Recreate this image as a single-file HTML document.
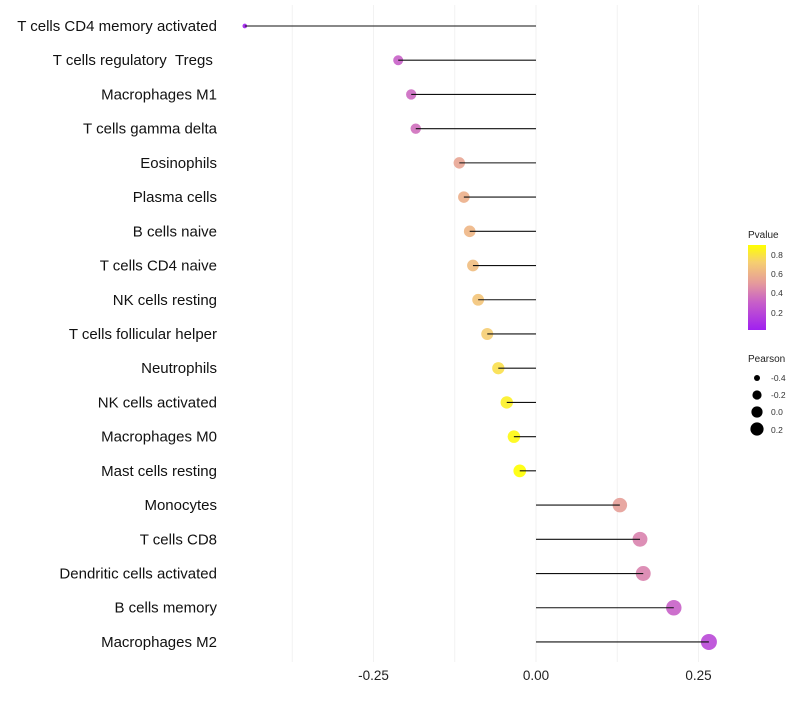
<!DOCTYPE html>
<html><head><meta charset="utf-8"><style>
body{margin:0;background:#fff;font-family:"Liberation Sans",sans-serif}
</style></head><body>
<svg id="chart" width="800" height="700" xmlns="http://www.w3.org/2000/svg">
<defs><linearGradient id="cb" x1="0" y1="1" x2="0" y2="0">
<stop offset="0" stop-color="#a020f0"/><stop offset="0.33" stop-color="#c860c8"/><stop offset="0.55" stop-color="#e59a9c"/><stop offset="0.8" stop-color="#f6cf70"/><stop offset="1" stop-color="#ffff00"/></linearGradient></defs>
<g id="grid"></g><g id="marks"></g><g id="labels"></g>
<g>
<text x="748" y="238" font-size="10" fill="#222">Pvalue</text>
<rect x="748" y="245" width="18" height="85" fill="url(#cb)"/>
<text x="771" y="258" font-size="8.5" fill="#333">0.8</text>
<text x="771" y="277" font-size="8.5" fill="#333">0.6</text>
<text x="771" y="296" font-size="8.5" fill="#333">0.4</text>
<text x="771" y="316" font-size="8.5" fill="#333">0.2</text>
</g>
<g>
<text x="748" y="362" font-size="10" fill="#222">Pearson</text>
<circle cx="757" cy="378" r="3" fill="#000"/><text x="771" y="381" font-size="8.5" fill="#333">-0.4</text>
<circle cx="757" cy="395" r="4.6" fill="#000"/><text x="771" y="398" font-size="8.5" fill="#333">-0.2</text>
<circle cx="757" cy="412" r="5.6" fill="#000"/><text x="771" y="415" font-size="8.5" fill="#333">0.0</text>
<circle cx="757" cy="429" r="6.6" fill="#000"/><text x="771" y="433" font-size="8.5" fill="#333">0.2</text>
</g>
</svg>
<script>
const categories=["T cells CD4 memory activated","T cells regulatory\u00a0\u00a0Tregs\u00a0","Macrophages M1","T cells gamma delta","Eosinophils","Plasma cells","B cells naive","T cells CD4 naive","NK cells resting","T cells follicular helper","Neutrophils","NK cells activated","Macrophages M0","Mast cells resting","Monocytes","T cells CD8","Dendritic cells activated","B cells memory","Macrophages M2"];
const pearson=[-0.448,-0.212,-0.192,-0.185,-0.118,-0.111,-0.102,-0.097,-0.089,-0.075,-0.058,-0.045,-0.034,-0.025,0.129,0.160,0.165,0.212,0.266];
const pvalue=[0.03,0.3,0.33,0.35,0.55,0.6,0.63,0.66,0.7,0.74,0.8,0.85,0.88,0.92,0.52,0.42,0.42,0.3,0.2];
const xTicks=[-0.25,0,0.25];
const xTickLabels=["-0.25","0.00","0.25"];
const xGrid=[-0.375,-0.25,-0.125,0,0.125,0.25];
const NS="http://www.w3.org/2000/svg";
const x=v=>536+v*650;
const y=i=>26+i*34.22;
const r=v=>Math.sqrt(Math.max(3,25+82*(v+0.21)));
function col(p){const s=[[0.03,[160,32,240]],[0.3,[200,96,200]],[0.5,[229,154,156]],[0.75,[246,207,112]],[0.9,[255,255,0]]];
 if(p<=s[0][0])return `rgb(${s[0][1]})`;for(let k=1;k<s.length;k++){if(p<=s[k][0]){const t=(p-s[k-1][0])/(s[k][0]-s[k-1][0]);const c=s[k-1][1].map((a,j)=>Math.round(a+(s[k][1][j]-a)*t));return `rgb(${c})`;}}return 'rgb(255,255,0)';}
function mk(t,a,p){const e=document.createElementNS(NS,t);for(const k in a)e.setAttribute(k,a[k]);p.appendChild(e);return e;}
const grid=document.getElementById('grid'),marks=document.getElementById('marks'),labels=document.getElementById('labels');
xGrid.forEach(v=>{const l=mk('line',{x1:x(v),x2:x(v),y1:5,y2:662,stroke:'#f2f2f2','stroke-width':1},grid);

});
xTicks.forEach((v,i)=>{const t=mk('text',{x:x(v),y:680,'font-size':13.5,'text-anchor':'middle',fill:'#222'},labels);t.textContent=xTickLabels[i];

});
categories.forEach((c,i)=>{
 const t=mk('text',{x:217,y:y(i)+5,'font-size':15,'text-anchor':'end',fill:'#111'},labels);t.textContent=c;
 
 
 const d=mk('circle',{cx:x(pearson[i]),cy:y(i),r:r(pearson[i]),fill:col(pvalue[i]),'fill-opacity':0.9},marks);
 
 
 const l=mk('line',{x1:x(0),x2:x(pearson[i]),y1:y(i),y2:y(i),stroke:'#111','stroke-width':1.1},marks);
 
 
});
</script>
</body></html>
